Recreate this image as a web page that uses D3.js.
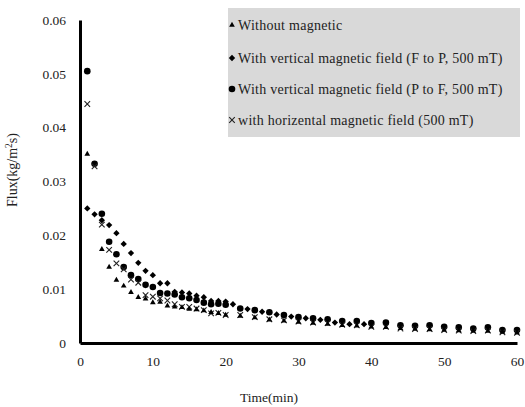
<!DOCTYPE html>
<html><head><meta charset="utf-8">
<script src="https://cdn.jsdelivr.net/npm/d3@7"></script>
<style>
body{margin:0;background:#fff;}
svg text{font-family:"Liberation Serif","Times New Roman",serif;fill:#222;}
</style></head>
<body><svg id="c" width="525" height="407"></svg>
<script>
const xTicks=[0,10,20,30,40,50,60];
const yTicks=[0,0.01,0.02,0.03,0.04,0.05,0.06];
const yTickLabels=["0","0.01","0.02","0.03","0.04","0.05","0.06"];
const seriesNames=["Without  magnetic","With vertical magnetic field (F to P, 500 mT)","With vertical magnetic field (P to F, 500 mT)","with horizental magnetic field (500 mT)"];

const timeNoMag=[1,3,4,5,6,7,8,9,10,11,12,13,14,15,16,17,18,19,20,22,24,26,28,30,32,34,36,38,40,42,44,46,48,50,52,54,56,58,60];
const fluxNoMag=[0.0351,0.0174,0.0141,0.0117,0.0106,0.0094,0.0085,0.0082,0.0075,0.0076,0.0069,0.0067,0.0066,0.0063,0.0062,0.0060,0.0057,0.0055,0.0052,0.0050,0.0047,0.0043,0.0041,0.0039,0.0037,0.0035,0.0033,0.0032,0.0030,0.0029,0.0027,0.0026,0.0025,0.0024,0.0023,0.0022,0.0022,0.0020,0.0019];

const timeFtoP=[1,2,3,4,5,6,7,8,9,10,11,12,13,14,15,16,17,18,19,20,21,23,25,27,29,31,33,35,37,39];
const fluxFtoP=[0.0250,0.0239,0.0228,0.0219,0.0204,0.0184,0.0167,0.0149,0.0134,0.0126,0.0111,0.0111,0.0095,0.0094,0.0092,0.0088,0.0085,0.0078,0.0078,0.0077,0.0072,0.0063,0.0058,0.0053,0.0049,0.0046,0.0043,0.0038,0.0035,0.0035];

const timePtoF=[1,2,3,4,5,6,7,8,9,10,11,12,13,14,15,16,17,18,19,20,22,24,26,28,30,32,34,36,38,40,42,44,46,48,50,52,54,56,58,60];
const fluxPtoF=[0.0505,0.0333,0.0240,0.0188,0.0165,0.0141,0.0126,0.0119,0.0108,0.0104,0.0093,0.0092,0.0090,0.0085,0.0083,0.0080,0.0075,0.0072,0.0073,0.0071,0.0064,0.0061,0.0057,0.0052,0.0048,0.0046,0.0044,0.0041,0.0041,0.0037,0.0038,0.0033,0.0032,0.0033,0.0030,0.0029,0.0027,0.0029,0.0024,0.0024];

const timeHoriz=[1,2,3,4,5,6,7,8,9,10,11,12,13,14,15,16,17,18,19,20,22,24,26,28,30,32,34,36,38,40,42,44,46,48,50,52,54,56,58,60];
const fluxHoriz=[0.0444,0.0328,0.0220,0.0173,0.0148,0.0137,0.0118,0.0112,0.0089,0.0086,0.0083,0.0079,0.0072,0.0067,0.0067,0.0064,0.0061,0.0055,0.0056,0.0052,0.0052,0.0048,0.0044,0.0042,0.0040,0.0038,0.0037,0.0034,0.0033,0.0030,0.0030,0.0027,0.0026,0.0026,0.0024,0.0023,0.0022,0.0023,0.0020,0.0019];

const svg=d3.select("#c");
const x=d3.scaleLinear().domain([0,60]).range([80,517]);
const y=d3.scaleLinear().domain([0,0.06]).range([343,20]);

// axes
const xAxis=svg.append("g").attr("transform","translate(0,343)")
  .call(d3.axisBottom(x).tickValues(xTicks).tickSize(0).tickPadding(13).tickFormat(d3.format("d")));
const yAxis=svg.append("g").attr("transform","translate(80,0)")
  .call(d3.axisLeft(y).tickValues(yTicks).tickSize(0).tickPadding(14).tickFormat((d,i)=>yTickLabels[i]));
[xAxis,yAxis].forEach(g=>{
  g.select(".domain").attr("stroke","#000").attr("stroke-width",3);
  g.selectAll("text").attr("font-size",13.5).style("font-family","'Liberation Serif',serif").attr("fill","#222");
});

// axis titles
svg.append("text").attr("x",269).attr("y",402).attr("text-anchor","middle").attr("font-size",13.5).text("Time(min)");
const yl=svg.append("text").attr("transform","translate(17,170) rotate(-90)").attr("text-anchor","middle").attr("font-size",14);
yl.append("tspan").text("Flux(kg/m");
yl.append("tspan").attr("font-size",9.5).attr("dy",-5).text("2");
yl.append("tspan").attr("dy",5).text("s)");

// marker drawers
function triangle(g){g.append("path").attr("d",d3.symbol(d3.symbolTriangle,14)()).attr("fill","#000");}
function diamond(g){g.append("path").attr("d",d3.symbol(d3.symbolSquare,20)()).attr("transform","rotate(45)").attr("fill","#000");}
function circle(g){g.append("circle").attr("r",3.3).attr("fill","#000");}
function cross(g){g.append("path").attr("d","M-2.8,-2.8L2.8,2.8M-2.8,2.8L2.8,-2.8").attr("stroke","#222").attr("stroke-width",1.1).attr("fill","none");}

function plot(ts,vs,fn){
  const g=svg.append("g");
  ts.forEach((t,i)=>{const m=g.append("g").attr("transform",`translate(${x(t)},${y(vs[i])})`);fn(m);});
}
plot(timeFtoP,fluxFtoP,diamond);
plot(timePtoF,fluxPtoF,circle);
plot(timeHoriz,fluxHoriz,cross);
plot(timeNoMag,fluxNoMag,triangle);

// legend
const lg=svg.append("g");
lg.append("rect").attr("x",228).attr("y",8).attr("width",292).attr("height",129).attr("fill","#d9d9d9");
const ly=[25,58,89,120];
const fns=[triangle,diamond,circle,cross];
seriesNames.forEach((n,i)=>{
  const m=lg.append("g").attr("transform",`translate(232,${ly[i]})`);fns[i](m);
  lg.append("text").attr("x",238).attr("y",ly[i]+5).attr("font-size",14).attr("letter-spacing",0.27).text(n);
});
</script></body></html>
